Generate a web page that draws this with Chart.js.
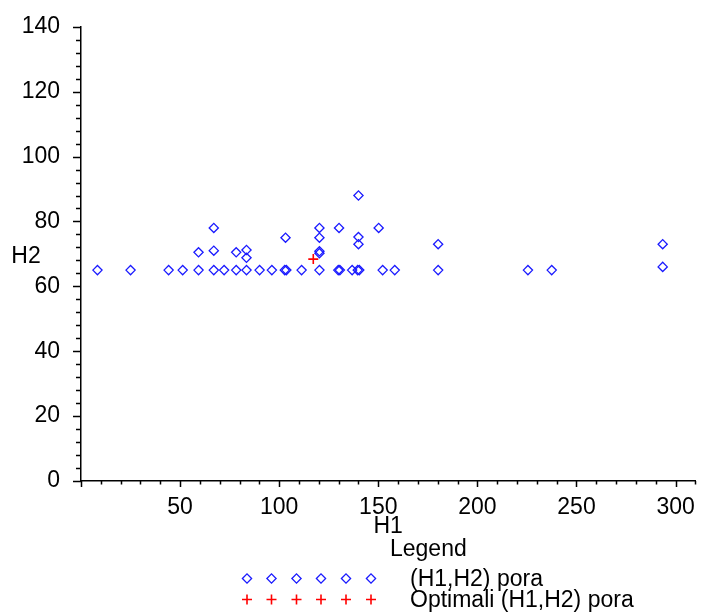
<!DOCTYPE html>
<html>
<head>
<meta charset="utf-8">
<script src="https://cdn.jsdelivr.net/npm/chart.js@4"></script>
<style>
html, body { margin: 0; padding: 0; background: #fff; }
#chart { display: block; }
</style>
</head>
<body>
<canvas id="chart" width="702" height="614"></canvas>
<script>
// (H1,H2) pora
const h1Values = [8.3, 25, 44.2, 51.3, 59.3, 59.3, 67, 67, 67, 72.2, 78.3, 78.3, 83.5, 83.5, 83.5,
    90.1, 96.3, 102.8, 103.6, 103.2, 111.3, 120.3, 120.3, 120.3, 120.3, 120.3,
    129.8, 130.6, 130.2, 136.8, 139.6, 140.4, 140, 140, 140, 150.2, 152.2, 158.3,
    180.2, 180.2, 225.5, 237.5, 293.5, 293.5];
const h2Values = [65, 65, 65, 65, 65, 70.5, 65, 71, 78, 65, 65, 70.5, 65, 71.2, 68.8,
    65, 65, 65, 65, 75, 65, 65, 70.2, 70.8, 75, 78,
    65, 65, 78, 65, 65, 65, 75.2, 73, 88, 78, 65, 65,
    73, 65, 65, 65, 73, 66];

// Optimali (H1,H2) pora
const optimalH1 = [117.2];
const optimalH2 = [68.4];

const xTickLabels = [50, 100, 150, 200, 250, 300];
const yTickLabels = [0, 20, 40, 60, 80, 100, 120, 140];
const seriesNames = ['(H1,H2) pora', 'Optimali (H1,H2) pora'];

const FONT = "'Liberation Sans', Arial, sans-serif";
const blue = '#1a1aff';
const red = '#ff0000';

function toPoints(xs, ys) {
    return xs.map((x, i) => ({ x: x, y: ys[i] }));
}

// minor/major tick marks like the original (outside the axes)
const tickMarks = {
    id: 'tickMarks',
    afterDraw(chart) {
        const ctx = chart.ctx;
        const xs = chart.scales.x;
        const ys = chart.scales.y;
        const area = chart.chartArea;
        ctx.save();
        ctx.strokeStyle = '#000';
        ctx.lineWidth = 1.5;
        ctx.beginPath();
        for (let v = 0; v <= 310; v += 10) {
            const px = Math.round(xs.getPixelForValue(v)) + 0.5;
            const len = v % 50 === 0 ? 6 : 3.5;
            ctx.moveTo(px, area.bottom);
            ctx.lineTo(px, area.bottom + len);
        }
        for (let v = 0; v <= 140; v += 4) {
            const py = Math.round(ys.getPixelForValue(v)) + 0.5;
            const len = v % 20 === 0 ? 8 : 5;
            ctx.moveTo(area.left, py);
            ctx.lineTo(area.left - len, py);
        }
        ctx.stroke();
        ctx.restore();
    }
};

// H2 label and the Maple style legend under the axis
const labelsAndLegend = {
    id: 'labelsAndLegend',
    afterDraw(chart) {
        const ctx = chart.ctx;
        ctx.save();
        ctx.fillStyle = '#000';
        ctx.font = '23px ' + FONT;
        ctx.textBaseline = 'middle';
        ctx.textAlign = 'center';
        ctx.fillText('H2', 26, 257);

        ctx.textAlign = 'left';
        ctx.fillText('Legend', 390, 550);

        const markerX = [247, 271.5, 296.5, 321, 346, 371];
        const rows = [
            { y: 578.5, style: 'rectRot', color: blue, radius: 4.6, width: 1.3 },
            { y: 599.5, style: 'cross', color: red, radius: 5, width: 1.6 }
        ];
        rows.forEach((row, i) => {
            ctx.strokeStyle = row.color;
            ctx.fillStyle = 'rgba(0,0,0,0)';
            ctx.lineWidth = row.width;
            markerX.forEach(mx => {
                Chart.helpers.drawPoint(ctx, {
                    pointStyle: row.style,
                    radius: row.radius,
                    borderWidth: row.width,
                    rotation: 0
                }, mx, row.y);
            });
            ctx.fillStyle = '#000';
            ctx.fillText(seriesNames[i], 410, row.y + 1);
        });
        ctx.restore();
    }
};

const ctx = document.getElementById('chart').getContext('2d');
new Chart(ctx, {
    type: 'scatter',
    data: {
        datasets: [{
            label: seriesNames[0],
            data: toPoints(h1Values, h2Values),
            pointStyle: 'rectRot',
            pointRadius: 4.6,
            pointBorderWidth: 1.3,
            borderColor: blue,
            backgroundColor: 'rgba(0,0,0,0)',
            pointHoverRadius: 4.6
        }, {
            label: seriesNames[1],
            data: toPoints(optimalH1, optimalH2),
            pointStyle: 'cross',
            pointRadius: 5,
            pointBorderWidth: 1.6,
            borderColor: red,
            backgroundColor: red,
            pointHoverRadius: 5
        }]
    },
    options: {
        responsive: false,
        devicePixelRatio: 1,
        animation: false,
        clip: false,
        layout: { padding: { left: 0, top: 23, right: 1, bottom: 0 } },
        plugins: {
            legend: { display: false },
            tooltip: { enabled: false }
        },
        scales: {
            x: {
                type: 'linear',
                min: 0,
                max: 310,
                grid: { display: false },
                border: { display: true, color: '#000', width: 1.5 },
                ticks: {
                    stepSize: 10,
                    autoSkip: false,
                    maxRotation: 0,
                    padding: 5,
                    color: '#000',
                    font: { family: FONT, size: 23 },
                    callback: v => xTickLabels.includes(v) ? String(v) : ''
                },
                title: {
                    display: true,
                    text: 'H1',
                    color: '#000',
                    font: { family: FONT, size: 23 },
                    padding: { top: 0, bottom: 74 }
                },
                afterFit: scale => { scale.height = 133; }
            },
            y: {
                type: 'linear',
                min: 0,
                max: 140,
                grid: { display: false },
                border: { display: true, color: '#000', width: 1.5 },
                ticks: {
                    stepSize: 20,
                    padding: 13,
                    color: '#000',
                    font: { family: FONT, size: 23 },
                    callback: v => yTickLabels.includes(v) ? String(v) : ''
                },
                afterFit: scale => { scale.width = 81; }
            }
        }
    },
    plugins: [tickMarks, labelsAndLegend]
});
</script>
</body>
</html>
